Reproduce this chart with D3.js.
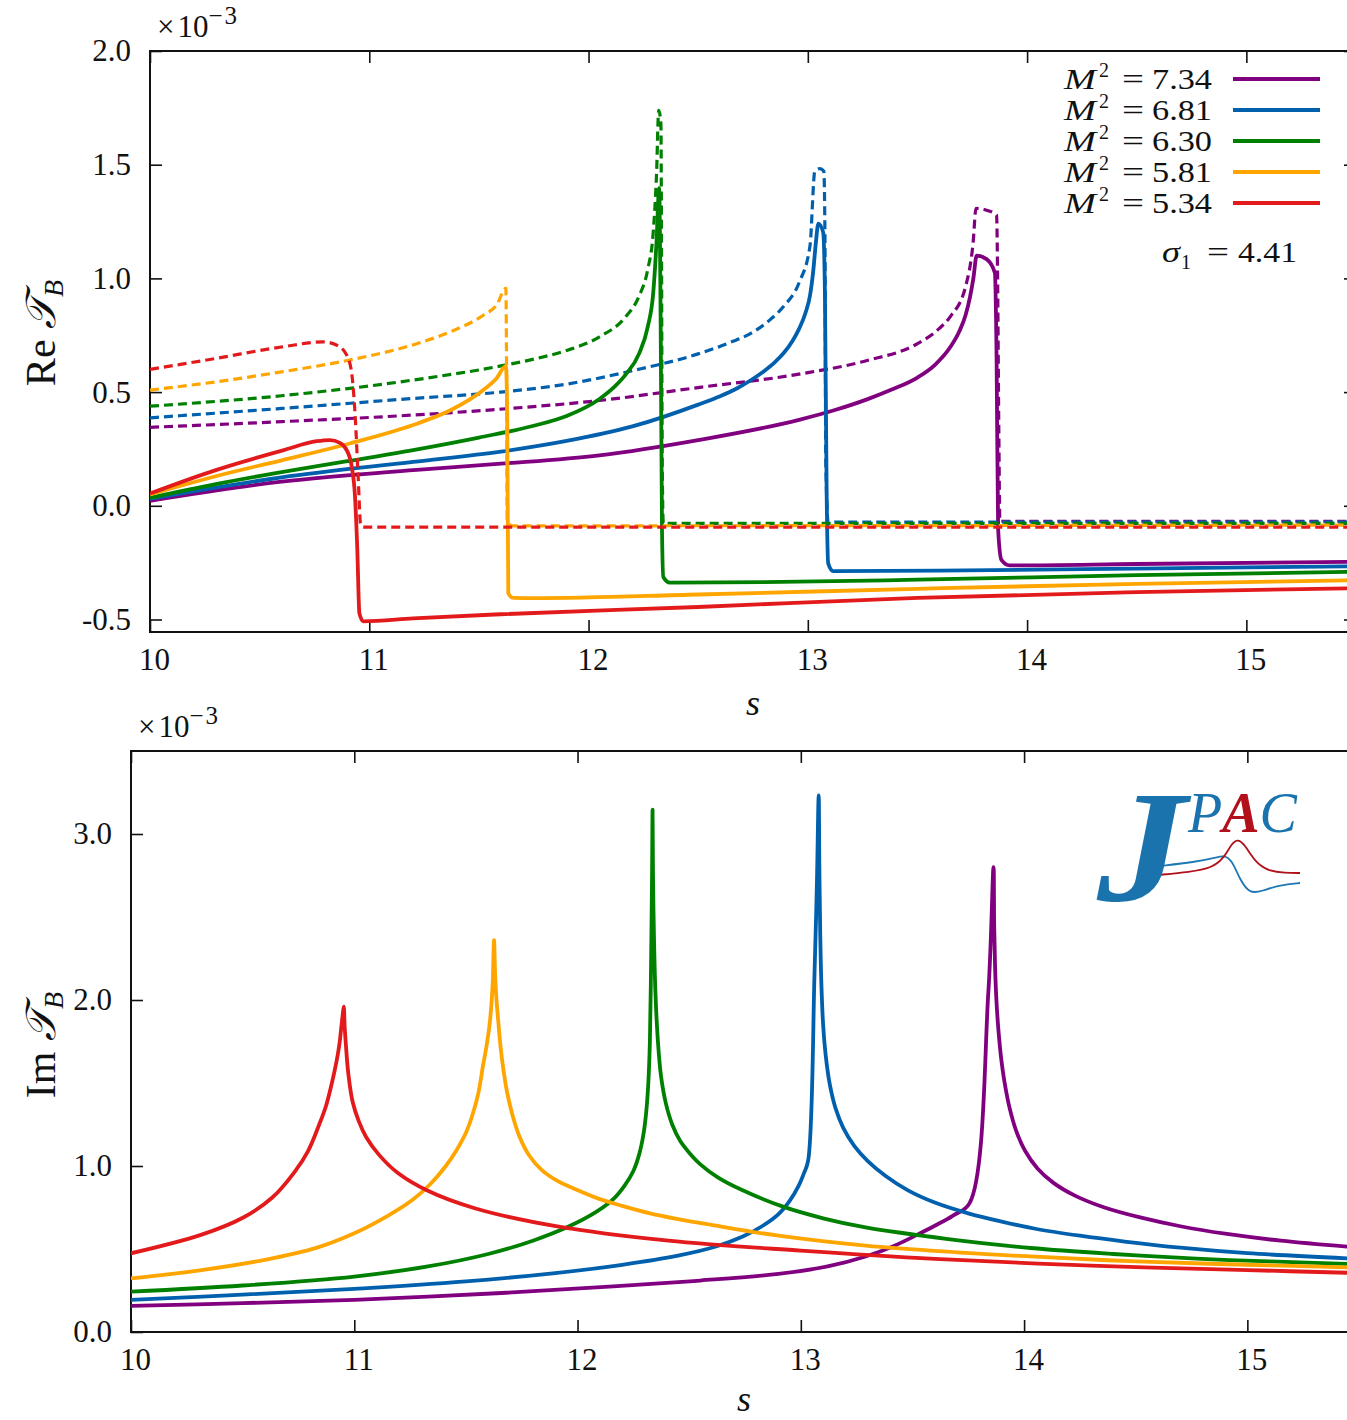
<!DOCTYPE html>
<html>
<head>
<meta charset="utf-8">
<script src="https://cdn.jsdelivr.net/npm/d3@7"></script>
<style>
  body { margin: 0; background: #fff; }
  svg text { font-family: "Liberation Serif", "DejaVu Serif", serif; fill: #111; }
</style>
</head>
<body>
<script>
// ---- data: [s, value x 1e-3] ----
const masses = ["7.34", "6.81", "6.30", "5.81", "5.34"];
const colors = ["#800080", "#0060ad", "#008000", "#ffa500", "#e31a1c"];
const xTicks = [10, 11, 12, 13, 14, 15];
const reTicks = [-0.5, 0.0, 0.5, 1.0, 1.5, 2.0];
const imTicks = [0.0, 1.0, 2.0, 3.0];

// Re T_B, solid
const reSolid734 = [[10.0,0.022],[10.6,0.106],[11.2,0.157],[11.6,0.185],[12.05,0.222],[12.5,0.289],[12.96,0.378],[13.12,0.42],[13.27,0.468],[13.38,0.51],[13.5,0.564],[13.58,0.62],[13.65,0.698],[13.69,0.765],[13.72,0.84],[13.74,0.92],[13.755,1.0],[13.77,1.1],[13.815,1.085],[13.853,1.025],[13.861,0.639],[13.868,-0.104],[13.883,-0.238],[13.92,-0.262],[14.5,-0.256],[15.5,-0.246]];
const reSolid681 = [[10.0,0.03],[10.6,0.125],[11.2,0.193],[11.6,0.238],[11.9,0.285],[12.2,0.349],[12.5,0.445],[12.6,0.482],[12.68,0.518],[12.74,0.552],[12.8,0.592],[12.85,0.632],[12.89,0.672],[12.93,0.725],[12.96,0.778],[12.99,0.85],[13.01,0.925],[13.025,1.035],[13.037,1.16],[13.048,1.241],[13.07,1.203],[13.078,0.936],[13.086,0.044],[13.093,-0.253],[13.116,-0.287],[13.6,-0.285],[14.5,-0.276],[15.5,-0.266]];
const reSolid630 = [[10.0,0.035],[10.3,0.095],[10.6,0.148],[10.9,0.196],[11.2,0.245],[11.5,0.3],[11.75,0.352],[11.9,0.395],[12.05,0.47],[12.12,0.525],[12.17,0.578],[12.23,0.668],[12.27,0.787],[12.295,0.936],[12.31,1.159],[12.322,1.397],[12.329,0.787],[12.335,-0.105],[12.341,-0.313],[12.371,-0.338],[12.8,-0.336],[13.5,-0.325],[14.5,-0.305],[15.5,-0.29]];
const reSolid581 = [[10.0,0.05],[10.3,0.13],[10.6,0.2],[10.91,0.274],[11.22,0.362],[11.37,0.42],[11.52,0.509],[11.58,0.56],[11.623,0.614],[11.629,0.406],[11.634,-0.385],[11.657,-0.405],[11.75,-0.406],[12.5,-0.39],[13.5,-0.365],[14.5,-0.343],[15.5,-0.327]];
const reSolid534 = [[10.0,0.054],[10.3,0.157],[10.61,0.245],[10.76,0.284],[10.82,0.289],[10.866,0.277],[10.897,0.245],[10.92,0.172],[10.935,0.04],[10.945,-0.18],[10.955,-0.473],[10.973,-0.508],[11.2,-0.495],[11.6,-0.477],[12.5,-0.445],[13.5,-0.405],[14.5,-0.38],[15.5,-0.362]];

// Re T_B, dashed
const reDash734 = [[10.0,0.345],[10.6,0.37],[11.2,0.399],[11.6,0.425],[12.05,0.463],[12.5,0.52],[12.96,0.579],[13.27,0.639],[13.5,0.713],[13.6,0.78],[13.65,0.832],[13.72,0.966],[13.754,1.159],[13.767,1.308],[13.815,1.3],[13.861,1.278],[13.865,1.055],[13.871,0.341],[13.876,-0.068],[15.5,-0.068]];
const reDash681 = [[10.0,0.387],[10.6,0.428],[11.2,0.472],[11.6,0.5],[11.9,0.535],[12.2,0.594],[12.5,0.668],[12.65,0.72],[12.74,0.758],[12.83,0.82],[12.89,0.877],[12.96,0.981],[13.01,1.144],[13.032,1.471],[13.055,1.483],[13.073,1.471],[13.078,1.204],[13.082,0.193],[13.093,-0.072],[15.5,-0.072]];
const reDash630 = [[10.0,0.438],[10.6,0.484],[11.2,0.553],[11.6,0.615],[11.75,0.645],[11.9,0.683],[12.05,0.743],[12.17,0.832],[12.23,0.921],[12.27,1.04],[12.295,1.203],[12.31,1.456],[12.32,1.739],[12.33,1.68],[12.333,1.085],[12.336,0.193],[12.341,-0.077],[15.5,-0.077]];
const reDash581 = [[10.0,0.509],[10.3,0.545],[10.6,0.589],[10.91,0.641],[11.22,0.714],[11.37,0.765],[11.52,0.838],[11.58,0.882],[11.623,0.956],[11.626,0.626],[11.629,-0.063],[11.65,-0.088],[15.5,-0.085]];
const reDash534 = [[10.0,0.6],[10.3,0.648],[10.61,0.7],[10.79,0.721],[10.85,0.707],[10.897,0.663],[10.92,0.582],[10.935,0.406],[10.95,0.113],[10.96,-0.078],[10.973,-0.094],[15.5,-0.094]];

// Im T_B
const im734 = [[10.0,0.157],[10.5,0.174],[11.0,0.194],[11.66,0.235],[12.16,0.275],[12.55,0.31],[12.9,0.35],[13.12,0.395],[13.29,0.455],[13.42,0.52],[13.52,0.585],[13.6,0.64],[13.68,0.7],[13.756,0.776],[13.84,2.05],[13.863,2.8],[13.866,2.45],[13.87,2.2],[13.876,2.0],[13.885,1.82],[13.898,1.64],[13.913,1.5],[13.935,1.35],[13.965,1.21],[14.005,1.09],[14.06,0.985],[14.13,0.9],[14.23,0.82],[14.36,0.75],[14.52,0.69],[14.7,0.637],[14.9,0.592],[15.15,0.55],[15.5,0.508]];
const im681 = [[10.0,0.194],[10.5,0.225],[11.0,0.26],[11.5,0.305],[11.9,0.355],[12.2,0.405],[12.45,0.46],[12.62,0.515],[12.74,0.575],[12.83,0.64],[12.9,0.71],[12.95,0.79],[12.99,0.88],[13.015,0.96],[13.033,1.034],[13.061,2.14],[13.072,2.7],[13.08,3.233],[13.083,2.8],[13.087,2.4],[13.092,2.1],[13.1,1.85],[13.112,1.66],[13.13,1.49],[13.155,1.35],[13.19,1.23],[13.24,1.12],[13.3,1.03],[13.38,0.94],[13.478,0.855],[13.6,0.78],[13.75,0.715],[13.9,0.665],[14.05,0.622],[14.25,0.58],[14.45,0.545],[14.7,0.508],[15.0,0.475],[15.5,0.44]];
const im630 = [[10.0,0.243],[10.5,0.28],[11.0,0.334],[11.33,0.395],[11.6,0.47],[11.8,0.55],[11.96,0.635],[12.08,0.72],[12.16,0.8],[12.21,0.88],[12.25,0.97],[12.276,1.07],[12.295,1.19],[12.308,1.33],[12.317,1.5],[12.324,1.75],[12.33,2.3],[12.334,2.8],[12.336,3.147],[12.338,2.75],[12.342,2.4],[12.349,2.04],[12.36,1.75],[12.374,1.54],[12.395,1.38],[12.424,1.25],[12.46,1.15],[12.5,1.08],[12.55,1.01],[12.63,0.93],[12.737,0.855],[12.92,0.755],[13.1,0.685],[13.29,0.63],[13.66,0.56],[14.03,0.506],[14.4,0.47],[14.77,0.442],[15.1,0.425],[15.5,0.408]];
const im581 = [[10.0,0.323],[10.3,0.37],[10.6,0.435],[10.83,0.507],[11.0,0.595],[11.15,0.7],[11.26,0.795],[11.34,0.89],[11.41,1.0],[11.46,1.1],[11.5,1.2],[11.53,1.31],[11.556,1.44],[11.576,1.6],[11.592,1.72],[11.605,1.84],[11.614,1.97],[11.62,2.1],[11.626,2.36],[11.631,2.15],[11.637,2.0],[11.645,1.87],[11.655,1.72],[11.668,1.58],[11.685,1.44],[11.71,1.3],[11.742,1.17],[11.785,1.06],[11.84,0.975],[11.91,0.91],[11.99,0.86],[12.09,0.805],[12.2,0.76],[12.324,0.715],[12.45,0.68],[12.6,0.645],[12.9,0.58],[13.29,0.52],[13.7,0.48],[14.03,0.455],[14.5,0.425],[15.0,0.405],[15.5,0.388]];
const im534 = [[10.0,0.474],[10.313,0.585],[10.503,0.69],[10.633,0.81],[10.733,0.965],[10.793,1.09],[10.843,1.25],[10.873,1.36],[10.898,1.49],[10.913,1.58],[10.926,1.67],[10.935,1.75],[10.943,1.85],[10.949,1.92],[10.953,1.96],[10.957,1.84],[10.963,1.72],[10.973,1.56],[10.992,1.39],[11.02,1.27],[11.053,1.175],[11.111,1.067],[11.194,0.959],[11.327,0.852],[11.543,0.744],[11.909,0.636],[12.407,0.55],[13.0,0.49],[13.6,0.44],[14.3,0.4],[15.0,0.373],[15.5,0.355]];

const reSolid = [reSolid734, reSolid681, reSolid630, reSolid581, reSolid534];
const reDash = [reDash734, reDash681, reDash630, reDash581, reDash534];
const imLines = [im734, im681, im630, im581, im534];

// ---- drawing ----
const W = 1347, H = 1420;
const FONT = 31;
const svg = d3.select("body").append("svg").attr("width", W).attr("height", H);

function makePanel(id, box, yDomain, yTicks, curve) {
  const x = d3.scaleLinear().domain([10, 15.5]).range([box.left, box.right]);
  const y = d3.scaleLinear().domain(yDomain).range([box.bottom, box.top]);

  svg.append("clipPath").attr("id", id)
    .append("rect")
    .attr("x", box.left).attr("y", box.top)
    .attr("width", box.right - box.left).attr("height", box.bottom - box.top);

  const fmt = v => v.toFixed(1);

  const gl = svg.append("g").attr("transform", `translate(${box.left},0)`)
    .call(d3.axisLeft(y).tickValues(yTicks).tickFormat(fmt).tickSize(-12).tickPadding(19));
  const gb = svg.append("g").attr("transform", `translate(0,${box.bottom})`)
    .call(d3.axisBottom(x).tickValues(xTicks).tickFormat(d3.format("d")).tickSize(-12).tickPadding(16));
  svg.append("g").attr("transform", `translate(0,${box.top})`)
    .call(d3.axisTop(x).tickValues(xTicks).tickFormat("").tickSize(-12));
  svg.append("g").attr("transform", `translate(${box.right},0)`)
    .call(d3.axisRight(y).tickValues(yTicks).tickFormat("").tickSize(-12));

  svg.selectAll(".domain").remove();
  svg.selectAll(".tick line").attr("stroke", "#111").attr("stroke-width", 1.6);
  [gl, gb].forEach(g => g.selectAll("text")
    .attr("font-family", "'Liberation Serif', 'DejaVu Serif', serif")
    .attr("font-size", FONT).attr("fill", "#111"));
  gb.selectAll("text").attr("dx", 4);

  svg.append("rect")
    .attr("x", box.left).attr("y", box.top)
    .attr("width", box.right - box.left).attr("height", box.bottom - box.top)
    .attr("fill", "none").attr("stroke", "#111").attr("stroke-width", 2);

  const plot = svg.append("g").attr("clip-path", `url(#${id})`);
  const line = d3.line().x(d => x(d[0])).y(d => y(d[1])).curve(curve);

  // x10^-3 multiplier
  const m = svg.append("text").attr("x", box.left + 7).attr("y", box.top - 14).attr("font-size", FONT);
  m.append("tspan").text("×");
  m.append("tspan").attr("dx", 3).text("10");
  m.append("tspan").attr("dy", -13).attr("font-size", 25).attr("letter-spacing", 2).text("−3");

  return { x, y, plot, line };
}

// top panel: Re
const rePanel = makePanel("clipRe", { left: 150, right: 1356, top: 51, bottom: 632 }, [-0.555, 2.0], reTicks, d3.curveMonotoneX);
reSolid.forEach((ser, i) => {
  rePanel.plot.append("path").datum(ser)
    .attr("d", rePanel.line).attr("fill", "none")
    .attr("stroke", colors[i]).attr("stroke-width", 3.8).attr("stroke-linejoin", "round");
  rePanel.plot.append("path").datum(reDash[i])
    .attr("d", rePanel.line).attr("fill", "none")
    .attr("stroke", colors[i]).attr("stroke-width", 3.2).attr("stroke-dasharray", "9,5");
});

// bottom panel: Im
const imPanel = makePanel("clipIm", { left: 131, right: 1359, top: 751, bottom: 1332 }, [0, 3.5], imTicks, d3.curveCatmullRom.alpha(0.5));
imLines.forEach((ser, i) => {
  imPanel.plot.append("path").datum(ser)
    .attr("d", imPanel.line).attr("fill", "none")
    .attr("stroke", colors[i]).attr("stroke-width", 3.8).attr("stroke-linejoin", "round");
});

// axis titles
function sLabel(cx, by) {
  svg.append("text").attr("x", cx).attr("y", by).attr("text-anchor", "middle")
    .attr("font-size", 36).attr("font-style", "italic").text("s");
}
sLabel(753, 715);
sLabel(744, 1411);

function yTitle(cx, cy, part) {
  const t = svg.append("text").attr("transform", `translate(${cx},${cy}) rotate(-90)`)
    .attr("text-anchor", "middle").attr("font-size", 42);
  t.append("tspan").text(part + " ");
  t.append("tspan").attr("font-style", "italic").text("𝒯");
  t.append("tspan").attr("font-style", "italic").attr("font-size", 28).attr("dy", 8).text("B");
}
yTitle(55, 333, "Re");
yTitle(55, 1045, "Im");

// legend (pieces placed separately so rows stay compact)
const legRows = [79, 110, 141, 172, 203];
const LEGFONT = 29;
masses.forEach((m, i) => {
  const yb = legRows[i] + 10;
  svg.append("text").attr("x", 1064).attr("y", yb).attr("font-size", LEGFONT)
    .attr("font-style", "italic").attr("textLength", 32).attr("lengthAdjust", "spacingAndGlyphs").text("M");
  svg.append("text").attr("x", 1099).attr("y", yb - 12).attr("font-size", 20).text("2");
  svg.append("text").attr("x", 1122).attr("y", yb).attr("font-size", LEGFONT)
    .attr("textLength", 22).attr("lengthAdjust", "spacingAndGlyphs").text("=");
  svg.append("text").attr("x", 1152).attr("y", yb).attr("font-size", LEGFONT)
    .attr("textLength", 60).attr("lengthAdjust", "spacingAndGlyphs").text(m);
  svg.append("line").attr("x1", 1233).attr("x2", 1320)
    .attr("y1", legRows[i]).attr("y2", legRows[i])
    .attr("stroke", colors[i]).attr("stroke-width", 4);
});
svg.append("text").attr("x", 1162).attr("y", 262).attr("font-size", LEGFONT)
  .attr("font-style", "italic").attr("textLength", 18).attr("lengthAdjust", "spacingAndGlyphs").text("σ");
svg.append("text").attr("x", 1181).attr("y", 269).attr("font-size", 20).text("1");
svg.append("text").attr("x", 1207).attr("y", 262).attr("font-size", LEGFONT)
  .attr("textLength", 22).attr("lengthAdjust", "spacingAndGlyphs").text("=");
svg.append("text").attr("x", 1238).attr("y", 262).attr("font-size", LEGFONT)
  .attr("textLength", 59).attr("lengthAdjust", "spacingAndGlyphs").text("4.41");

// JPAC logo
const logo = svg.append("g");
const blueLogo = [[1160,866],[1195,862],[1215,858],[1224,855],[1232,860],[1240,880],[1250,894],[1262,891],[1280,885],[1300,883]];
const redLogo = [[1158,875],[1190,872],[1212,868],[1224,858],[1232,843],[1238,839],[1245,845],[1255,862],[1268,871],[1285,873],[1300,873]];
const lg = d3.line().curve(d3.curveBasis);
logo.append("path").attr("d", lg(blueLogo)).attr("fill", "none").attr("stroke", "#1f78b4").attr("stroke-width", 1.8);
logo.append("path").attr("d", lg(redLogo)).attr("fill", "none").attr("stroke", "#b2101a").attr("stroke-width", 1.8);
logo.append("text").attr("transform", "translate(1097,900) scale(1.12,1)").attr("font-size", 160)
  .attr("font-weight", "bold").attr("font-style", "italic").style("fill", "#1a73ad").text("J");
const pac = logo.append("text").attr("x", 1188).attr("y", 832).attr("font-size", 56).attr("font-style", "italic");
pac.append("tspan").style("fill", "#1a73ad").text("P");
pac.append("tspan").style("fill", "#b2101a").attr("font-weight", "bold").text("A");
pac.append("tspan").style("fill", "#1a73ad").text("C");
</script>
</body>
</html>
